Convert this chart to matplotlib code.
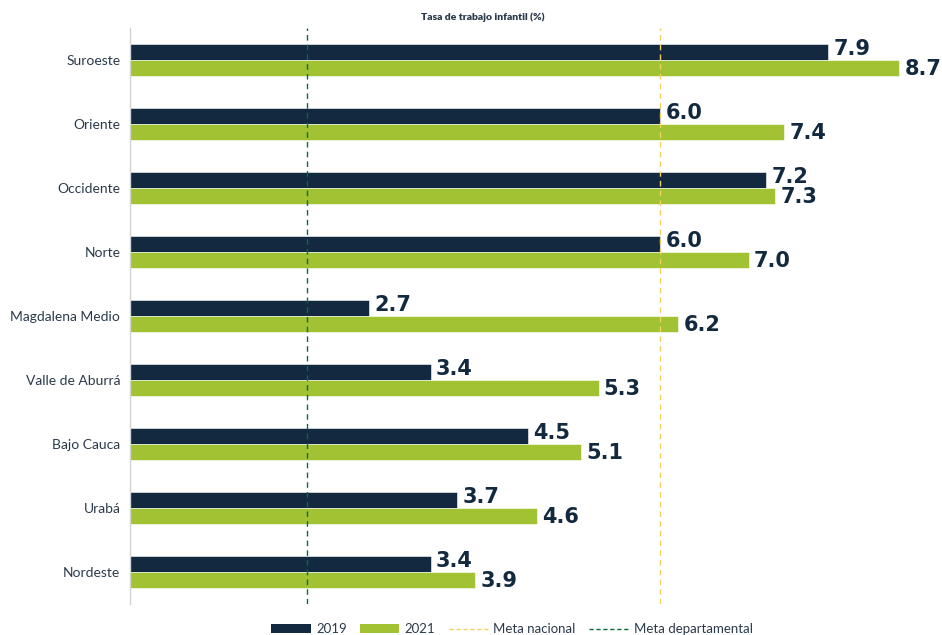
import numpy as np
import matplotlib.pyplot as plt
from matplotlib.lines import Line2D
from matplotlib.patches import Patch

plt.rcParams["font.family"] = ["Lato", "DejaVu Sans"]

regions = ["Suroeste", "Oriente", "Occidente", "Norte", "Magdalena Medio",
           "Valle de Aburrá", "Bajo Cauca", "Urabá", "Nordeste"]
rate_2019 = [7.9, 6.0, 7.2, 6.0, 2.7, 3.4, 4.5, 3.7, 3.4]
rate_2021 = [8.7, 7.4, 7.3, 7.0, 6.2, 5.3, 5.1, 4.6, 3.9]
meta_nacional = 6.0
meta_departamental = 2.0

navy = "#13293f"
green = "#a1c232"
text_col = "#2b3a4b"

fig = plt.figure(figsize=(9.42, 6.35), dpi=100)
ax = fig.add_axes([130 / 942, 31 / 635, 812 / 942, 576 / 635])

y = np.arange(len(regions))
h = 0.25
ax.barh(y - h / 2, rate_2019, height=h, color=navy, edgecolor="white", linewidth=0.4, zorder=2)
ax.barh(y + h / 2, rate_2021, height=h, color=green, edgecolor="white", linewidth=0.4, zorder=2)

lab_font = dict(fontsize=15, fontweight="bold", color=navy, family="DejaVu Sans", zorder=4)
for yi, v in zip(y, rate_2019):
    ax.text(v + 0.06, yi - h / 2 - 0.04, f"{v:.1f}", va="center", ha="left", **lab_font)
for yi, v in zip(y, rate_2021):
    ax.text(v + 0.06, yi + h / 2 + 0.02, f"{v:.1f}", va="center", ha="left", **lab_font)

ax.axvline(meta_nacional, color="#f2d161", linestyle=(0, (4, 3)), linewidth=1, zorder=3)
ax.axvline(meta_departamental, color="#0d6b3a", linestyle=(0, (4, 3)), linewidth=1, zorder=3)

ax.set_xlim(0, 812 / 88.4)
ax.set_ylim(len(regions) - 0.5, -0.5)
ax.set_yticks(y)
ax.set_yticklabels(regions, fontsize=10, color=text_col)
ax.tick_params(axis="y", length=0, pad=7)
ax.set_xticks([])
for s in ["top", "right", "bottom"]:
    ax.spines[s].set_visible(False)
ax.spines["left"].set_color("#d4d4d4")
ax.spines["left"].set_linewidth(1)

fig.text(483 / 942, 1 - 17 / 635, "Tasa de trabajo infantil (%)", ha="center", va="center",
         fontsize=7.5, fontweight="heavy", color=text_col)

handles = [
    Patch(facecolor=navy, label="2019"),
    Patch(facecolor=green, label="2021"),
    Line2D([0], [0], color="#f2d161", linestyle=(0, (3, 2)), linewidth=1, label="Meta nacional"),
    Line2D([0], [0], color="#0d6b3a", linestyle=(0, (3, 2)), linewidth=1, label="Meta departamental"),
]
fig.legend(handles=handles, loc="center", bbox_to_anchor=(512 / 942, 1 - 629 / 635), ncol=4,
           frameon=False, fontsize=9.5, handlelength=3.0, handleheight=0.6,
           columnspacing=1.0, handletextpad=0.4, labelcolor=text_col)

fig.savefig("out.png", dpi=100)
